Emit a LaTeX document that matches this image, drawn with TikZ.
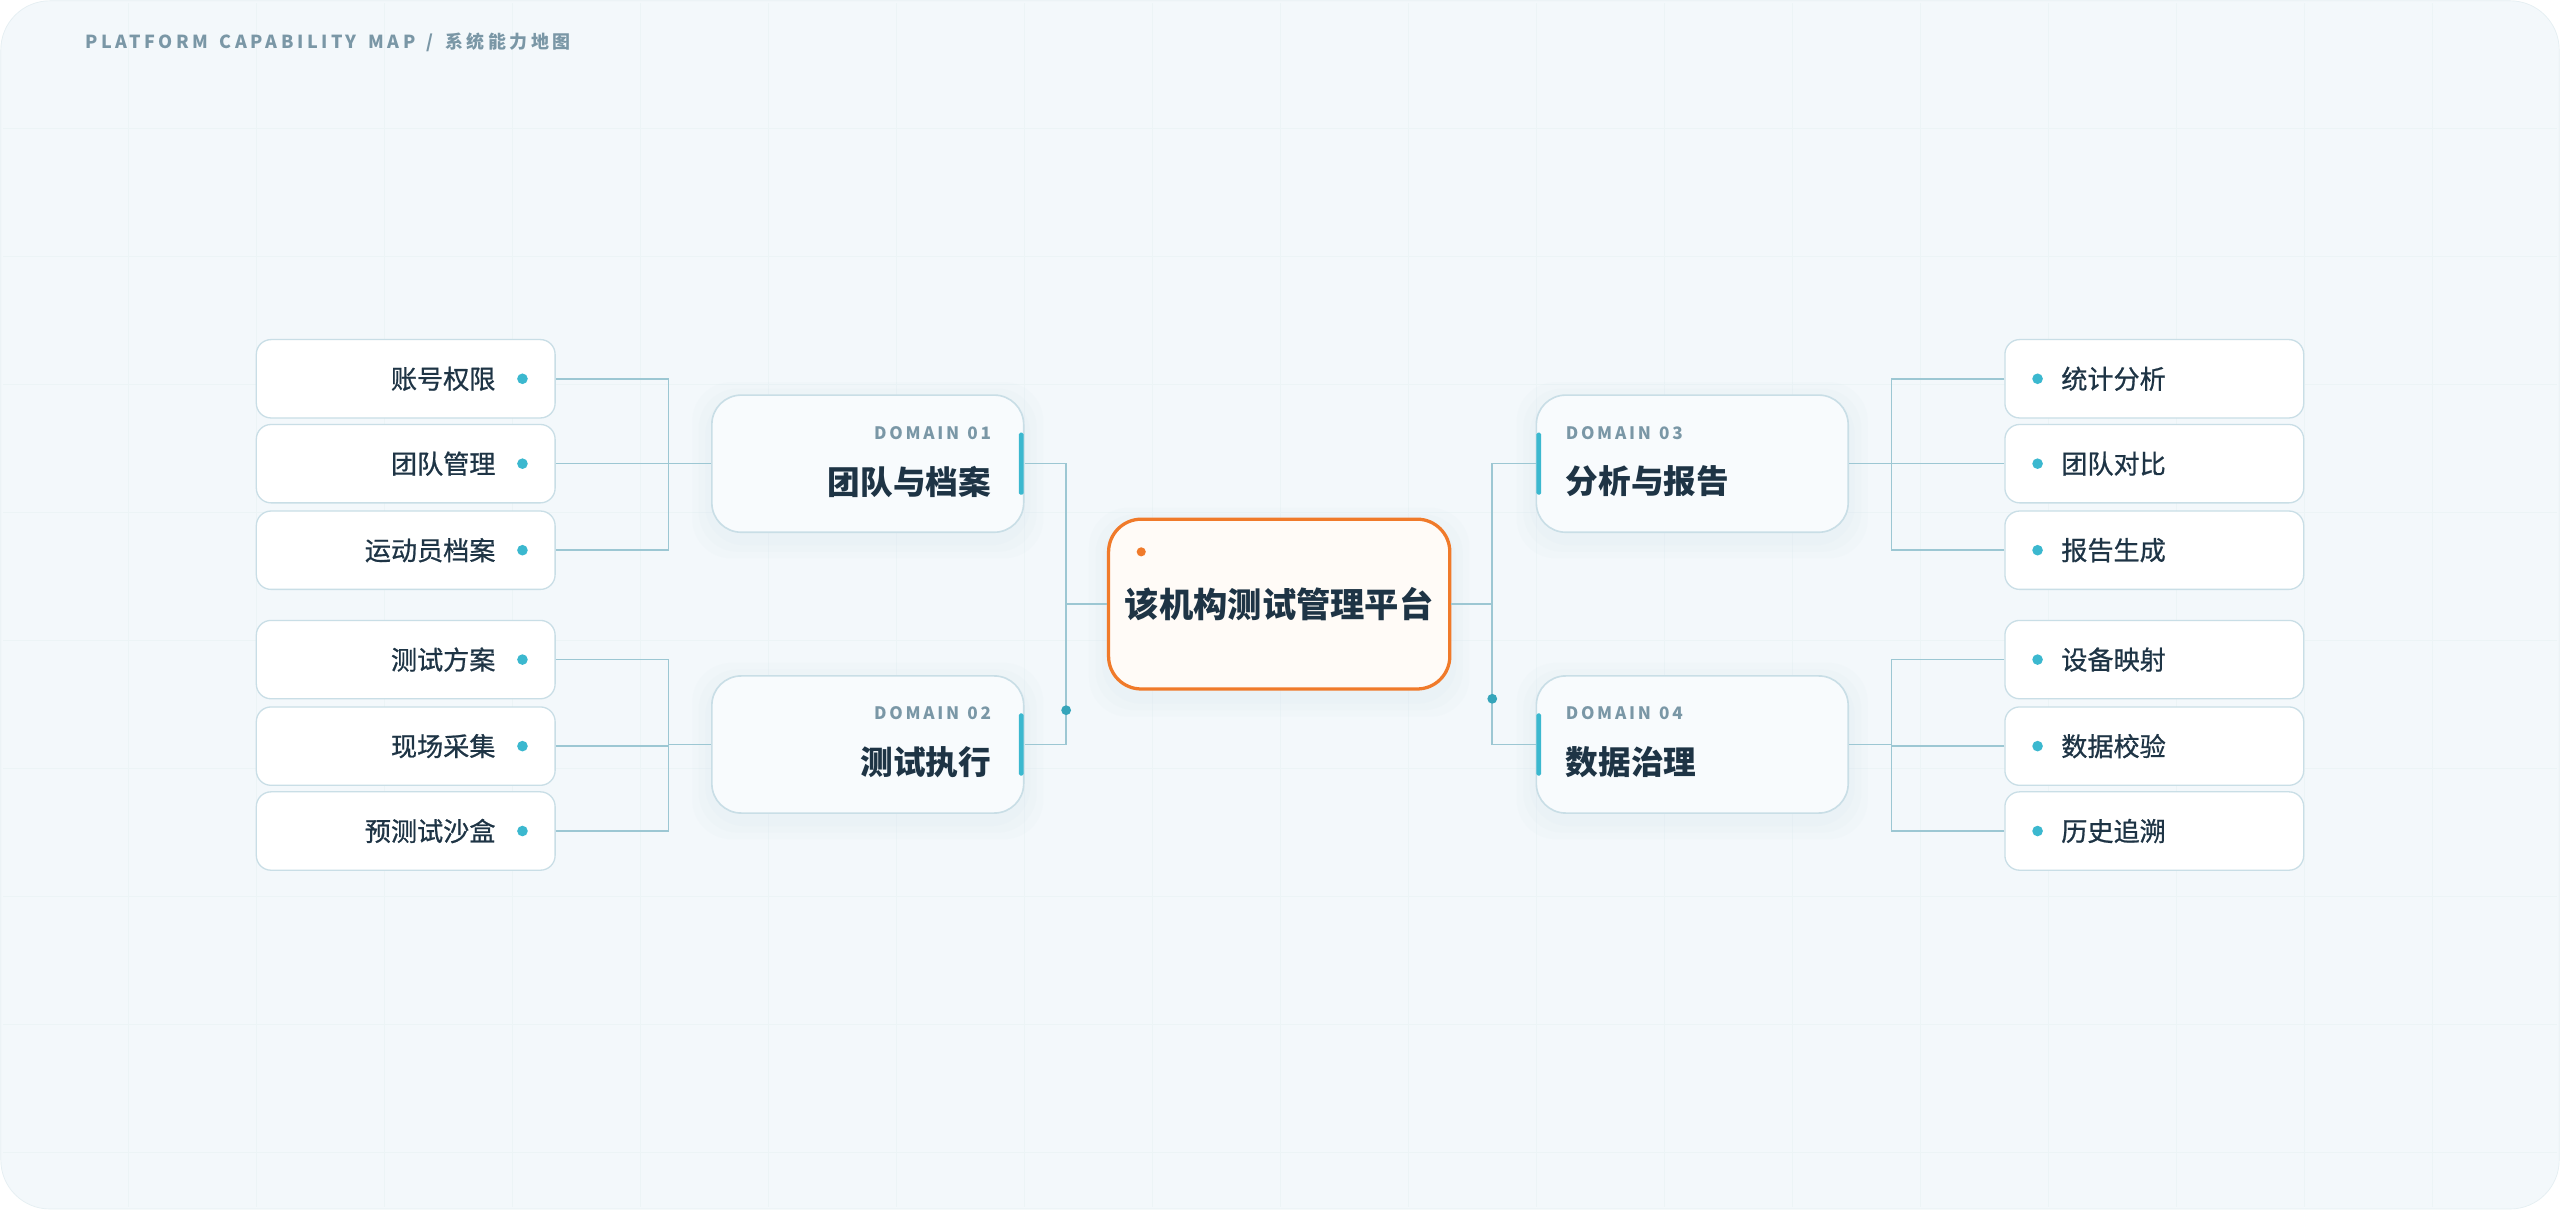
\documentclass[tikz,border=0pt]{standalone}
\usepackage{fontspec}
\setmainfont{Noto Sans CJK SC}
\definecolor{bg}{HTML}{F3F8FB}
\definecolor{edge}{HTML}{C9DEE6}
\definecolor{line}{HTML}{9CC7D3}
\definecolor{acc}{HTML}{3BB8CF}
\definecolor{dark}{HTML}{1E3445}
\definecolor{gray}{HTML}{7A97A6}
\definecolor{org}{HTML}{F07A2A}
\newcommand\wsp{\hspace{7pt}}
\tikzset{
 leaf/.style={draw=edge,line width=0.8pt,fill=white,rounded corners=9pt,minimum width=183pt,minimum height=48pt},
 dom/.style={draw=edge,line width=1pt,fill=bg!60!white,rounded corners=18pt,minimum width=191pt,minimum height=84pt},
 conn/.style={draw=line,line width=1pt},
 lt/.style={text=dark,font=\fontsize{16}{16}\selectfont\addfontfeature{FakeBold=0.8}},
 dot/.style={circle,fill=acc,inner sep=0pt,minimum size=6.5pt},
 glow/.style={fill=edge,opacity=0.06,rounded corners=24pt},
}
\begin{document}
\begin{tikzpicture}[x=1pt,y=-1pt]
\useasboundingbox (0,0) rectangle (1568,741);
\fill[white] (0,0) rectangle (1568,741);
\fill[bg,rounded corners=30pt,draw=edge!50] (0.5,0.5) rectangle (1567.5,740.5);
\foreach \i in {1,...,19} \draw[edge!35,line width=0.5pt] (\i*78.4,2) -- (\i*78.4,739);
\foreach \j in {1,...,9} \draw[edge!35,line width=0.5pt] (2,\j*78.4) -- (1566,\j*78.4);
\node[anchor=west,inner sep=0pt,text=gray,font=\bfseries\fontsize{11}{11}\selectfont] (title) at (52,26) {\addfontfeature{LetterSpace=20}PLATFORM\wsp CAPABILITY\wsp MAP\wsp /\wsp 系统能力地图};

% soft glows
\foreach \x/\y/\w/\h in {531.5/288/191/84,531.5/460/191/84,1036.5/288/191/84,1036.5/460/191/84,783.5/375/209/104}
 \foreach \d in {4,8,12} \fill[glow] (\x-\w/2-\d,\y-\h/2-\d) rectangle (\x+\w/2+\d,\y+\h/2+\d);

% center
\node[draw=org,line width=2pt,fill=orange!3,rounded corners=20pt,minimum width=209pt,minimum height=104pt,text=dark,font=\bfseries\fontsize{21}{21}\selectfont] (c) at (783.5,370) {该机构测试管理平台};
\fill[org] (699,338) circle (2.8pt);

% domains
\foreach \n/\x/\y in {d1/531.5/284,d2/531.5/456,d3/1036.5/284,d4/1036.5/456} \node[dom] (\n) at (\x,\y) {};
\foreach \n/\k/\t in {d1/01/团队与档案,d2/02/测试执行}{
 \node[anchor=east,text=gray,font=\bfseries\fontsize{10.5}{10.5}\selectfont] (\n k) at ([xshift=-17pt,yshift=19pt]\n.east) {\addfontfeature{LetterSpace=16}DOMAIN\hspace{5pt}\k};
 \node[anchor=east,text=dark,font=\bfseries\fontsize{20}{20}\selectfont] (\n t) at ([xshift=-17pt,yshift=-11pt]\n.east) {\t};
 \fill[acc,rounded corners=1pt] ([xshift=-3.5pt,yshift=19pt]\n.east) rectangle ([xshift=-0.5pt,yshift=-19pt]\n.east);
}
\foreach \n/\k/\t in {d3/03/分析与报告,d4/04/数据治理}{
 \node[anchor=west,text=gray,font=\bfseries\fontsize{10.5}{10.5}\selectfont] (\n k) at ([xshift=15pt,yshift=19pt]\n.west) {\addfontfeature{LetterSpace=16}DOMAIN\hspace{5pt}\k};
 \node[anchor=west,text=dark,font=\bfseries\fontsize{20}{20}\selectfont] (\n t) at ([xshift=15pt,yshift=-11pt]\n.west) {\t};
 \fill[acc,rounded corners=1pt] ([xshift=0.5pt,yshift=19pt]\n.west) rectangle ([xshift=3.5pt,yshift=-19pt]\n.west);
}

% leaves
\foreach \n/\y/\t in {a1/232/账号权限,a2/284/团队管理,a3/337/运动员档案,b1/404/测试方案,b2/457/现场采集,b3/509/预测试沙盒}{
 \node[leaf] (\n) at (248.5,\y) {};
 \node[lt,anchor=east] (\n t) at (307,\y) {\t};
 \node[dot] (\n d) at (320,\y) {};
}
\foreach \n/\y/\t in {c1/232/统计分析,c2/284/团队对比,c3/337/报告生成,e1/404/设备映射,e2/457/数据校验,e3/509/历史追溯}{
 \node[leaf] (\n) at (1319.5,\y) {};
 \node[lt,anchor=west] (\n t) at (1259,\y) {\t};
 \node[dot] (\n d) at (1248,\y) {};
}

% connectors
\foreach \l in {a1,a2,a3} \draw[conn] (\l.east) -| ([xshift=-26pt]d1.west);
\draw[conn] ([xshift=-26pt]d1.west) -- (d1.west);
\foreach \l in {b1,b2,b3} \draw[conn] (\l.east) -| ([xshift=-26pt]d2.west);
\draw[conn] ([xshift=-26pt]d2.west) -- (d2.west);
\foreach \l in {c1,c2,c3} \draw[conn] (\l.west) -| ([xshift=26pt]d3.east);
\draw[conn] ([xshift=26pt]d3.east) -- (d3.east);
\foreach \l in {e1,e2,e3} \draw[conn] (\l.west) -| ([xshift=26pt]d4.east);
\draw[conn] ([xshift=26pt]d4.east) -- (d4.east);
\coordinate (jl) at (653,370);
\coordinate (jr) at (914,370);
\draw[conn] (d1.east) -| (jl) |- (d2.east);
\draw[conn] (jl) -- (c.west);
\draw[conn] (d3.west) -| (jr) |- (d4.west);
\draw[conn] (jr) -- (c.east);
\fill[acc!90!black] (653,435) circle (3pt);
\fill[acc!90!black] (914,428) circle (3pt);
\end{tikzpicture}
\end{document}
